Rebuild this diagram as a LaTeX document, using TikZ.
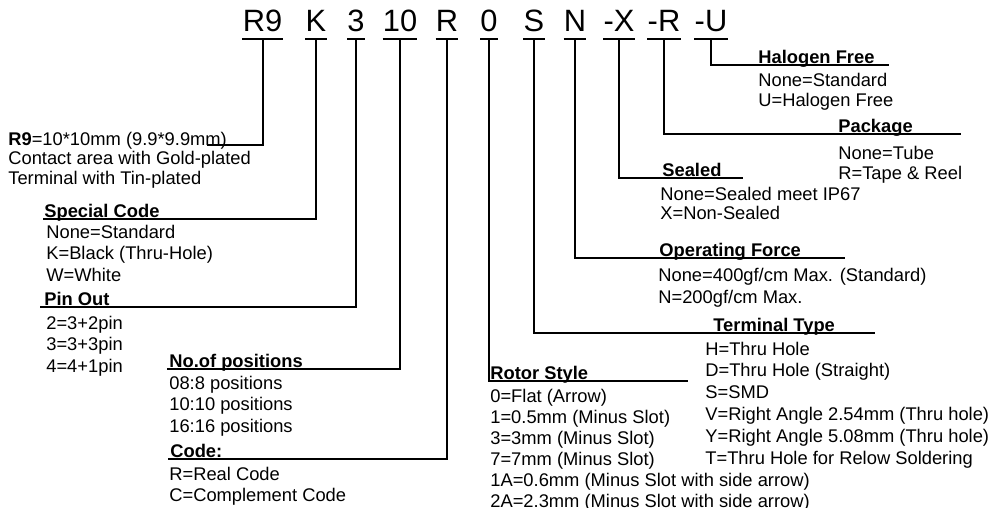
\documentclass[tikz,border=0pt]{standalone}
\usepackage{fontspec}
\setmainfont{Liberation Sans}
\begin{document}
\begin{tikzpicture}[x=0.6pt,y=-0.6pt,
    code/.style={font=\fontsize{18.5}{20}\selectfont, inner sep=0pt, text depth=3.9pt, anchor=base},
    ttl/.style={font=\fontsize{11}{13}\selectfont\bfseries, inner sep=0pt, anchor=base west},
    body/.style={font=\fontsize{11}{#1}\selectfont, inner sep=0pt, anchor=north west, align=left},
    body/.default=12.9,
    lead/.style={line width=1.2pt}]
    \useasboundingbox (0,0) rectangle (1000,508);

    % part number, one node per field
    \node[code] (cR9) at (262.5,32) {R9};
    \node[code] (cK)  at (316,32)   {K};
    \node[code] (c3)  at (356,32)   {3};
    \node[code] (c10) at (400,32)   {10};
    \node[code] (cR)  at (447,32)   {R};
    \node[code] (c0)  at (489,32)   {0};
    \node[code] (cS)  at (534,32)   {S};
    \node[code] (cN)  at (575,32)   {N};
    \node[code] (cX)  at (619,32)   {-X};
    \node[code] (cRR) at (664,32)   {-R};
    \node[code] (cU)  at (711,32)   {-U};
    \foreach \c in {cR9,cK,c3,c10,cR,c0,cS,cN,cX,cRR,cU}
        \draw[lead] (\c.south west) -- (\c.south east);

    % free ends of the leaders
    \coordinate (eR9) at (207,145);
    \coordinate (eK)  at (43,219);
    \coordinate (e3)  at (40,307);
    \coordinate (e10) at (167,369);
    \coordinate (eR)  at (168,459);
    \coordinate (e0)  at (688,381);
    \coordinate (eS)  at (875,333);
    \coordinate (eN)  at (845,258);
    \coordinate (eX)  at (743,178);
    \coordinate (eRR) at (961,134);
    \coordinate (eU)  at (889,65);
    \foreach \c/\e in {cR9/eR9,cK/eK,c3/e3,c10/e10,cR/eR,c0/e0,cS/eS,cN/eN,cX/eX,cRR/eRR,cU/eU}
        \draw[lead] (\c.south) |- (\e);

    % left side
    \node[body=11.7] (bR9) at (8,131.4) {\textbf{R9}=10*10mm (9.9*9.9mm)\\Contact area with Gold-plated\\Terminal with Tin-plated};

    \node[ttl] (tK) at (44,217.5) {Special Code};
    \node[body] (bK) at (46,224.4) {None=Standard\\K=Black (Thru-Hole)\\W=White};

    \node[ttl] (t3) at (44,305.5) {Pin Out};
    \node[body] (b3) at (46,315.4) {2=3+2pin\\3=3+3pin\\4=4+1pin};

    \node[ttl] (t10) at (169,367.5) {No.of positions};
    \node[body] (b10) at (169,375.4) {08:8 positions\\10:10 positions\\16:16 positions};

    \node[ttl] (tR) at (170,457.5) {Code:};
    \node[body=12.6] (bR) at (169,466.4) {R=Real Code\\C=Complement Code};

    % right side
    \node[ttl] (t0) at (490,379.5) {Rotor Style};
    \node[body=12.6] (b0) at (490,388.4) {0=Flat (Arrow)\\1=0.5mm (Minus Slot)\\3=3mm (Minus Slot)\\7=7mm (Minus Slot)\\1A=0.6mm (Minus Slot with side arrow)\\2A=2.3mm (Minus Slot with side arrow)};

    \node[ttl] (tS) at (713,331.5) {Terminal Type};
    \node[body=13.1] (bS) at (705,341.4) {H=Thru Hole\\D=Thru Hole (Straight)\\S=SMD\\V=Right Angle 2.54mm (Thru hole)\\Y=Right Angle 5.08mm (Thru hole)\\T=Thru Hole for Relow Soldering};

    \node[ttl] (tN) at (659,256.5) {Operating Force};
    \node[body=13.2] (bN) at (658,267.4) {None=400gf/cm Max. (Standard)\\N=200gf/cm Max.};

    \node[ttl] (tX) at (662,176.5) {Sealed};
    \node[body=11.7] (bX) at (660,186.4) {None=Sealed meet IP67\\X=Non-Sealed};

    \node[ttl] (tRR) at (838,132.5) {Package};
    \node[body=12] (bRR) at (838,145.4) {None=Tube\\R=Tape \& Reel};

    \node[ttl] (tU) at (758,63.5) {Halogen Free};
    \node[body=12] (bU) at (758,72.4) {None=Standard\\U=Halogen Free};
\end{tikzpicture}
\end{document}
